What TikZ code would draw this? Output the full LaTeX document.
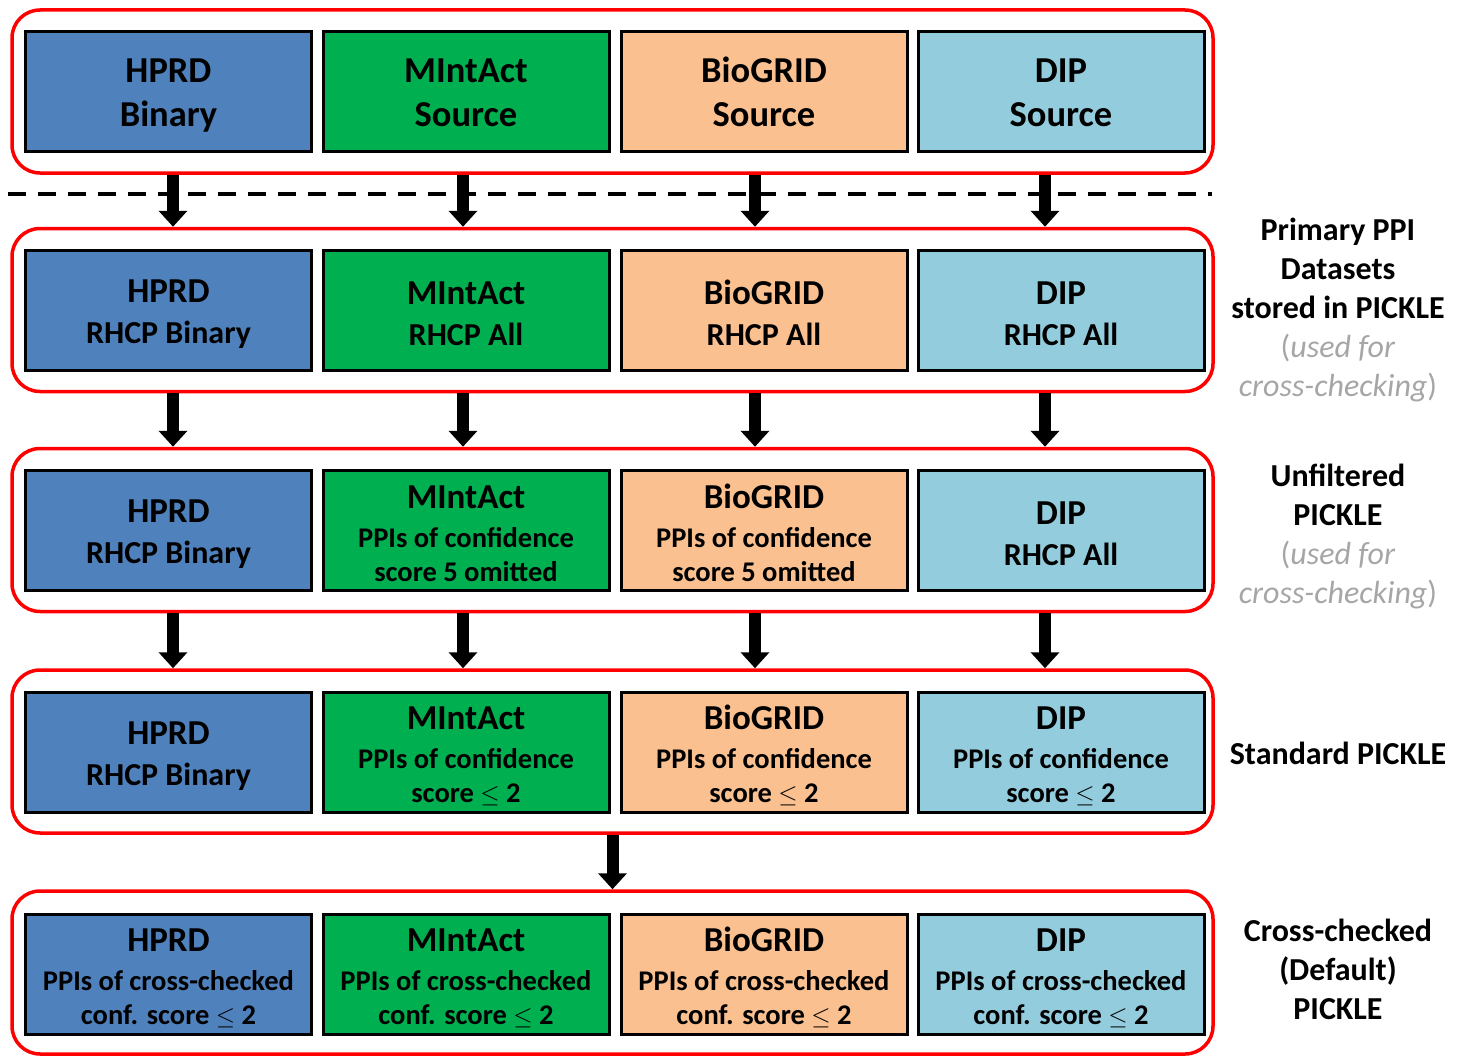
\documentclass[tikz,border=0pt]{standalone}
\usepackage{fontspec}
\setmainfont{Carlito}
\usetikzlibrary{arrows.meta}

\definecolor{hprdcol}{HTML}{4F81BD}
\definecolor{mintcol}{HTML}{00B050}
\definecolor{biocol}{HTML}{FAC090}
\definecolor{dipcol}{HTML}{93CDDD}
\definecolor{notegray}{HTML}{A6A6A6}

\newcommand{\hd}[1]{{\fontsize{35}{40}\selectfont\rule{0pt}{30.5pt}#1}}
\newcommand{\srchd}{\rule{0pt}{34pt}}
\newcommand{\note}[1]{{\mdseries\color{notegray}#1}}

\tikzset{
  frame/.style={draw=red, line width=3.5pt, rounded corners=28pt,
    minimum width=1201pt, minimum height=163pt},
  db/.style={draw=black, line width=3pt, minimum width=286pt, minimum height=120pt,
    align=center, inner sep=0pt, font=\bfseries\fontsize{32}{36}\selectfont},
  db3/.style={db, font=\bfseries\fontsize{28.5}{34}\selectfont},
  srcbox/.style={db, text depth=8pt, font=\bfseries\fontsize{36.5}{44}\selectfont},
  flow/.style={line width=12pt, -{Triangle[length=16pt,width=28pt]}},
  side/.style={align=center, font=\bfseries\fontsize{32}{39}\selectfont}
}

\begin{document}
\begin{tikzpicture}[x=1pt,y=-1pt]
	\useasboundingbox (0,0) rectangle (1465,1057);

	% red frames
	\node[frame] (f1) at (612.5,91.5) {};
	\node[frame] (f2) at (612.5,310) {};
	\node[frame] (f3) at (612.5,530) {};
	\node[frame] (f4) at (612.5,751.5) {};
	\node[frame] (f5) at (612.5,972.5) {};

	% source files
	\node[srcbox, fill=hprdcol] (hprd1) at (168.5,91.5) {\srchd HPRD\\Binary};
	\node[srcbox, fill=mintcol] (mint1) at (466,91.5) {\srchd MIntAct\\Source};
	\node[srcbox, fill=biocol] (bio1) at (764,91.5) {\srchd BioGRID\\Source};
	\node[srcbox, fill=dipcol] (dip1) at (1061,91.5) {\srchd DIP\\Source};

	% primary datasets
	\node[db, fill=hprdcol] (hprd2) at (168.5,310) {\hd{HPRD}\\[5pt]RHCP Binary};
	\node[db, fill=mintcol] (mint2) at (466,310) {\hd{MIntAct}\\[5pt]RHCP All};
	\node[db, fill=biocol] (bio2) at (764,310) {\hd{BioGRID}\\[5pt]RHCP All};
	\node[db, fill=dipcol] (dip2) at (1061,310) {\hd{DIP}\\[5pt]RHCP All};

	% unfiltered
	\node[db, fill=hprdcol] (hprd3) at (168.5,530) {\hd{HPRD}\\[5pt]RHCP Binary};
	\node[db3, fill=mintcol] (mint3) at (466,530) {\hd{MIntAct}\\[5pt]PPIs of confidence\\score 5 omitted};
	\node[db3, fill=biocol] (bio3) at (764,530) {\hd{BioGRID}\\[5pt]PPIs of confidence\\score 5 omitted};
	\node[db, fill=dipcol] (dip3) at (1061,530) {\hd{DIP}\\[5pt]RHCP All};

	% standard
	\node[db, fill=hprdcol] (hprd4) at (168.5,752) {\hd{HPRD}\\[5pt]RHCP Binary};
	\node[db3, fill=mintcol] (mint4) at (466,752) {\hd{MIntAct}\\[5pt]PPIs of confidence\\score $\leq$ 2};
	\node[db3, fill=biocol] (bio4) at (764,752) {\hd{BioGRID}\\[5pt]PPIs of confidence\\score $\leq$ 2};
	\node[db3, fill=dipcol] (dip4) at (1061,752) {\hd{DIP}\\[5pt]PPIs of confidence\\score $\leq$ 2};

	% cross-checked
	\node[db3, fill=hprdcol] (hprd5) at (168.5,974) {\hd{HPRD}\\[5pt]PPIs of cross-checked\\conf. score $\leq$ 2};
	\node[db3, fill=mintcol] (mint5) at (466,974) {\hd{MIntAct}\\[5pt]PPIs of cross-checked\\conf. score $\leq$ 2};
	\node[db3, fill=biocol] (bio5) at (764,974) {\hd{BioGRID}\\[5pt]PPIs of cross-checked\\conf. score $\leq$ 2};
	\node[db3, fill=dipcol] (dip5) at (1061,974) {\hd{DIP}\\[5pt]PPIs of cross-checked\\conf. score $\leq$ 2};

	\draw[line width=4pt, dash pattern=on 18pt off 12pt] (8,194) -- (1212,194);

	\foreach \c/\dx in {hprd/4.5,mint/-3,bio/-9,dip/-16} {
		\foreach \r/\s in {1/2,2/3,3/4} {
			\draw[flow] ([xshift=\dx pt]f\r.south -| \c\r) -- ([xshift=\dx pt]f\s.north -| \c\r);
		}
	}
	\draw[flow] (f4.south) -- (f5.north);

	% side labels
	\node[side] (lprim) at (1338,310) {Primary PPI\\Datasets\\stored in PICKLE\\\note{(\textit{used for}}\\\note{\textit{cross-checking})}};
	\node[side] (lunf) at (1338,536) {Unfiltered\\PICKLE\\\note{(\textit{used for}}\\\note{\textit{cross-checking})}};
	\node[side] (lstd) at (1338,753) {Standard PICKLE};
	\node[side] (lcross) at (1338,969) {Cross-checked\\(Default)\\PICKLE};
\end{tikzpicture}
\end{document}
